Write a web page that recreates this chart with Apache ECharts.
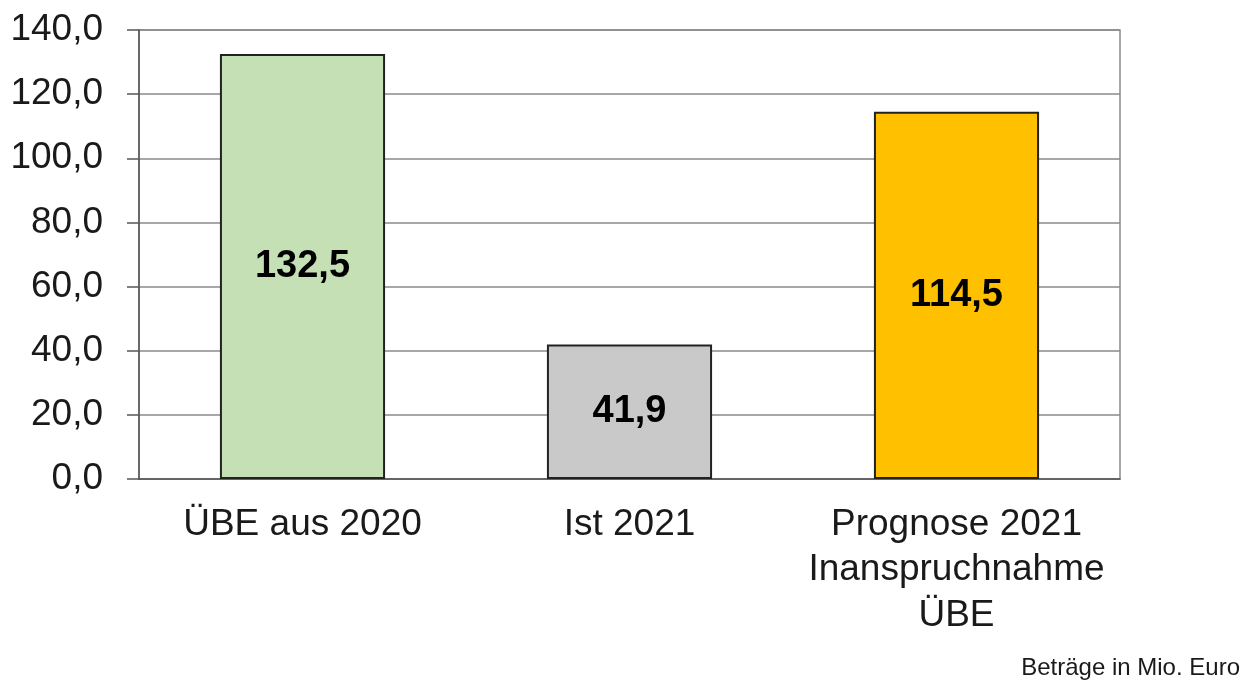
<!DOCTYPE html>
<html>
<head>
<meta charset="utf-8">
<script src="https://cdn.jsdelivr.net/npm/echarts@6/dist/echarts.min.js"></script>
<style>
  html, body { margin: 0; padding: 0; background: #fff; }
  #chart { width: 1249px; height: 683px; }
</style>
</head>
<body>
<div id="chart"></div>
<script>
// Daten
const categories = ["ÜBE aus 2020", "Ist 2021", "Prognose 2021\nInanspruchnahme\nÜBE"];
const values = [132.5, 41.9, 114.5];
const barColors = ["#C5E0B4", "#C9C9C9", "#FFC000"];
const yTicks = [0, 20, 40, 60, 80, 100, 120, 140];

const fmt = (v) => v.toFixed(1).replace(".", ",");
const font = "Liberation Sans, Arial, sans-serif";

const chart = echarts.init(document.getElementById("chart"));

chart.setOption({
  animation: false,
  backgroundColor: "#fff",
  grid: {
    left: 139,
    right: 129,
    top: 30,
    bottom: 204,
    show: true,
    borderColor: "#8a8a8a",
    borderWidth: 1.5,
  },
  xAxis: {
    type: "category",
    data: categories,
    axisTick: { show: false },
    axisLine: { lineStyle: { color: "#555", width: 1.5 } },
    axisLabel: {
      color: "#1a1a1a",
      fontFamily: font,
      fontSize: 37,
      lineHeight: 45.5,
      margin: 23,
      interval: 0,
    },
  },
  yAxis: {
    type: "value",
    min: yTicks[0],
    max: yTicks[yTicks.length - 1],
    interval: 20,
    axisLine: { show: true, lineStyle: { color: "#555", width: 1.5 } },
    axisTick: { show: true, length: 12, inside: false, lineStyle: { color: "#555", width: 1.5 } },
    splitLine: { lineStyle: { color: "#8a8a8a", width: 1.5 } },
    axisLabel: {
      color: "#1a1a1a",
      fontFamily: font,
      fontSize: 37,
      margin: 36,
      formatter: (v) => fmt(v),
    },
  },
  series: [
    {
      type: "bar",
      barWidth: "50.5%",
      data: values.map((v, i) => ({
        value: v,
        itemStyle: { color: barColors[i] },
      })),
      itemStyle: { borderColor: "#222", borderWidth: 2 },
      label: {
        show: true,
        position: "inside",
        color: "#000",
        fontFamily: font,
        fontWeight: "bold",
        fontSize: 38,
        formatter: (p) => fmt(p.value),
      },
    },
  ],
  graphic: [
    {
      type: "text",
      right: 9,
      bottom: 3,
      style: {
        text: "Beträge in Mio. Euro",
        fill: "#1a1a1a",
        font: "24px " + font,
      },
    },
  ],
});
</script>
</body>
</html>
